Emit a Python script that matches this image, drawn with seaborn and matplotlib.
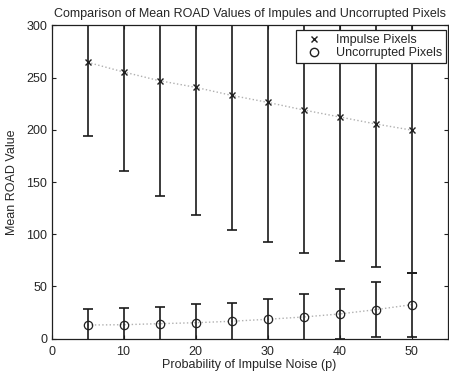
import matplotlib
matplotlib.use("Agg")
import matplotlib.pyplot as plt
import seaborn as sns
import pandas as pd
from matplotlib.lines import Line2D

# Data
noise_p = [5, 10, 15, 20, 25, 30, 35, 40, 45, 50]
impulse_mean = [264.7, 255.4, 247.0, 240.7, 233.0, 226.3, 219.0, 212.3, 205.6, 199.7]
impulse_err = [70.7, 95.0, 110.4, 122.0, 129.0, 133.8, 137.0, 137.7, 136.7, 136.7]
uncorr_mean = [13.0, 13.3, 14.3, 15.2, 16.6, 18.5, 20.7, 23.6, 27.7, 32.5]
uncorr_err = [15.6, 16.3, 16.3, 17.9, 17.8, 19.4, 21.7, 23.6, 26.5, 30.6]
xticks = [0, 10, 20, 30, 40, 50]
yticks = [0, 50, 100, 150, 200, 250, 300]

sns.set_style("ticks")
plt.rcParams["font.family"] = ["Liberation Sans", "DejaVu Sans"]

df = pd.DataFrame({"p": noise_p * 2,
                   "value": impulse_mean + uncorr_mean,
                   "series": ["Impulse Pixels"] * 10 + ["Uncorrupted Pixels"] * 10})

fig = plt.figure(figsize=(4.49, 3.72), dpi=100)
ax = fig.add_axes([0.1147, 0.0898, 0.8823, 0.8419])

# dotted connecting lines
sns.lineplot(data=df, x="p", y="value", hue="series",
             palette=["#b0b0b0", "#b0b0b0"], linestyle=":", linewidth=1.0,
             legend=False, ax=ax, zorder=1)

ax.errorbar(noise_p, impulse_mean, yerr=impulse_err, fmt="none",
            ecolor="#1a1a1a", elinewidth=1.2, capsize=3.5, capthick=1.2, zorder=2)
ax.errorbar(noise_p, uncorr_mean, yerr=uncorr_err, fmt="none",
            ecolor="#1a1a1a", elinewidth=1.2, capsize=3.5, capthick=1.2, zorder=2)

ax.plot(noise_p, impulse_mean, linestyle="none", marker="x", color="#202020",
        markersize=4, markeredgewidth=1.0, zorder=3)
ax.plot(noise_p, uncorr_mean, linestyle="none", marker="o", markerfacecolor="none",
        markeredgecolor="#202020", markersize=6, markeredgewidth=0.9, zorder=3)

ax.set_xlim(0, 55)
ax.set_ylim(0, 300)
ax.set_xticks(xticks)
ax.set_yticks(yticks)
ax.tick_params(direction="in", top=True, right=True, labelsize=9, length=3,
               width=0.8, color="#202020")
ax.tick_params(axis="x", pad=5)
ax.tick_params(axis="y", pad=3)
for s in ax.spines.values():
    s.set_visible(True)
    s.set_linewidth(0.9)
    s.set_color("#202020")

ax.set_xlabel("Probability of Impulse Noise (p)", fontsize=9, labelpad=1)
ax.set_ylabel("Mean ROAD Value", fontsize=9, labelpad=6)
ax.set_title("Comparison of Mean ROAD Values of Impules and Uncorrupted Pixels",
             fontsize=9, pad=6)

handles = [Line2D([], [], linestyle="none", marker="x", color="#202020", markersize=4),
           Line2D([], [], linestyle="none", marker="o", markerfacecolor="none",
                  markeredgecolor="#202020", markersize=6)]
leg = ax.legend(handles, ["Impulse Pixels", "Uncorrupted Pixels"], loc="upper right",
                fontsize=9, frameon=True, fancybox=False, edgecolor="#202020",
                framealpha=1, borderpad=0.3, handletextpad=0.5, labelspacing=0.1,
                handlelength=2.4,
                bbox_to_anchor=(0.995, 0.984), borderaxespad=0)
leg.get_frame().set_linewidth(0.9)

fig.savefig("out.png", dpi=100)
